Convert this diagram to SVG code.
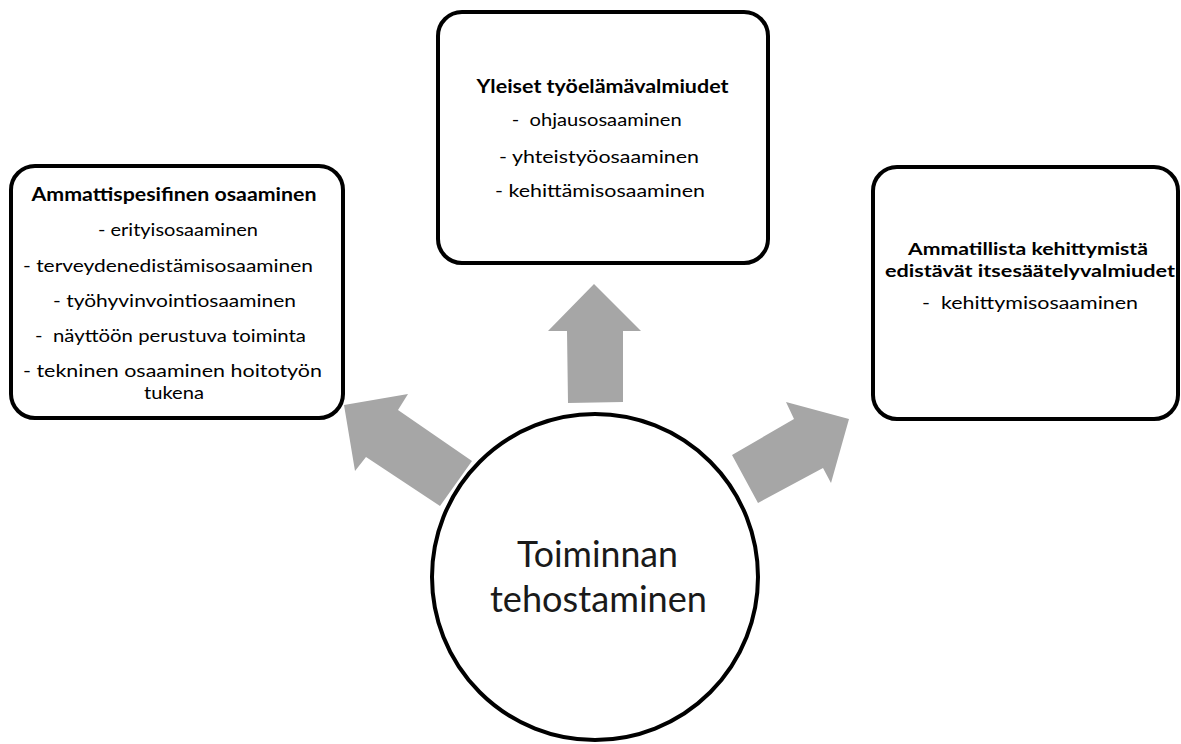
<svg xmlns="http://www.w3.org/2000/svg" width="1181" height="744" viewBox="0 0 1181 744">
  <style>
    .box { fill: #ffffff; stroke: #000000; stroke-width: 4; }
    .hub { fill: #ffffff; stroke: #000000; stroke-width: 4; }
    .arrow { fill: #a6a6a6; stroke: none; }
    .t { font-family: Lato, "Open Sans", "Liberation Sans", sans-serif; font-size: 18px; fill: #000000; text-anchor: middle; }
    .b { font-weight: bold; }
    .s { font-size: 17px; }
    .big { font-family: Lato, "Open Sans", "Liberation Sans", sans-serif; font-size: 37px; font-weight: normal; fill: #1a1a1a; text-anchor: middle; }
  </style>

  <rect width="1181" height="744" fill="#ffffff"/>

  <!-- block arrows pointing from the hub to the three boxes -->
  <g id="connectors">
    <polygon class="arrow" points="594,284 641,331 623,331 623,402 568,403 567,331 548,331"/>
    <polygon class="arrow" points="344,405 408,394 398,410 472,461 440,506 366,457 355,471"/>
    <polygon class="arrow" points="849,419 831,483 823,468 758,503 732,455 794,419 786,402"/>
  </g>

  <g id="node-ammattispesifinen">
    <rect class="box" x="11" y="166" width="332" height="252" rx="24" ry="24"/>
    <text class="t b" x="174" y="201" textLength="285" lengthAdjust="spacingAndGlyphs">Ammattispesifinen osaaminen</text>
    <text class="t" x="178" y="236" textLength="160" lengthAdjust="spacingAndGlyphs">- erityisosaaminen</text>
    <text class="t" x="168" y="271.5" textLength="290" lengthAdjust="spacingAndGlyphs">- terveydenedistämisosaaminen</text>
    <text class="t" x="174.5" y="306.5" textLength="243" lengthAdjust="spacingAndGlyphs">- työhyvinvointiosaaminen</text>
    <text class="t" x="170.5" y="342" textLength="271" lengthAdjust="spacingAndGlyphs" xml:space="preserve">-  näyttöön perustuva toiminta</text>
    <text class="t" x="172.5" y="377" textLength="299" lengthAdjust="spacingAndGlyphs">- tekninen osaaminen hoitotyön</text>
    <text class="t" x="174" y="398.5" textLength="60" lengthAdjust="spacingAndGlyphs">tukena</text>
  </g>

  <g id="node-yleiset">
    <rect class="box" x="438" y="12" width="330" height="251" rx="24" ry="24"/>
    <text class="t b" x="602.5" y="93" textLength="252" lengthAdjust="spacingAndGlyphs">Yleiset työelämävalmiudet</text>
    <text class="t" x="596.7" y="126" textLength="170" lengthAdjust="spacingAndGlyphs" xml:space="preserve">-  ohjausosaaminen</text>
    <text class="t" x="599" y="162.5" textLength="200" lengthAdjust="spacingAndGlyphs">- yhteistyöosaaminen</text>
    <text class="t" x="600" y="196.5" textLength="210" lengthAdjust="spacingAndGlyphs">- kehittämisosaaminen</text>
  </g>

  <g id="node-ammatillista">
    <rect class="box" x="873" y="167" width="305" height="252" rx="24" ry="24"/>
    <text class="t b s" x="1028" y="254.5" textLength="240" lengthAdjust="spacingAndGlyphs">Ammatillista kehittymistä</text>
    <text class="t b s" x="1030" y="276.5" textLength="290" lengthAdjust="spacingAndGlyphs">edistävät itsesäätelyvalmiudet</text>
    <text class="t" x="1030" y="309" textLength="216" lengthAdjust="spacingAndGlyphs" xml:space="preserve">-  kehittymisosaaminen</text>
  </g>

  <g id="node-toiminnan">
    <circle class="hub" cx="595" cy="577" r="163"/>
    <text class="big" x="597.5" y="566.7" textLength="161" lengthAdjust="spacingAndGlyphs">Toiminnan</text>
    <text class="big" x="598.5" y="611.7" textLength="217" lengthAdjust="spacingAndGlyphs">tehostaminen</text>
  </g>
</svg>
